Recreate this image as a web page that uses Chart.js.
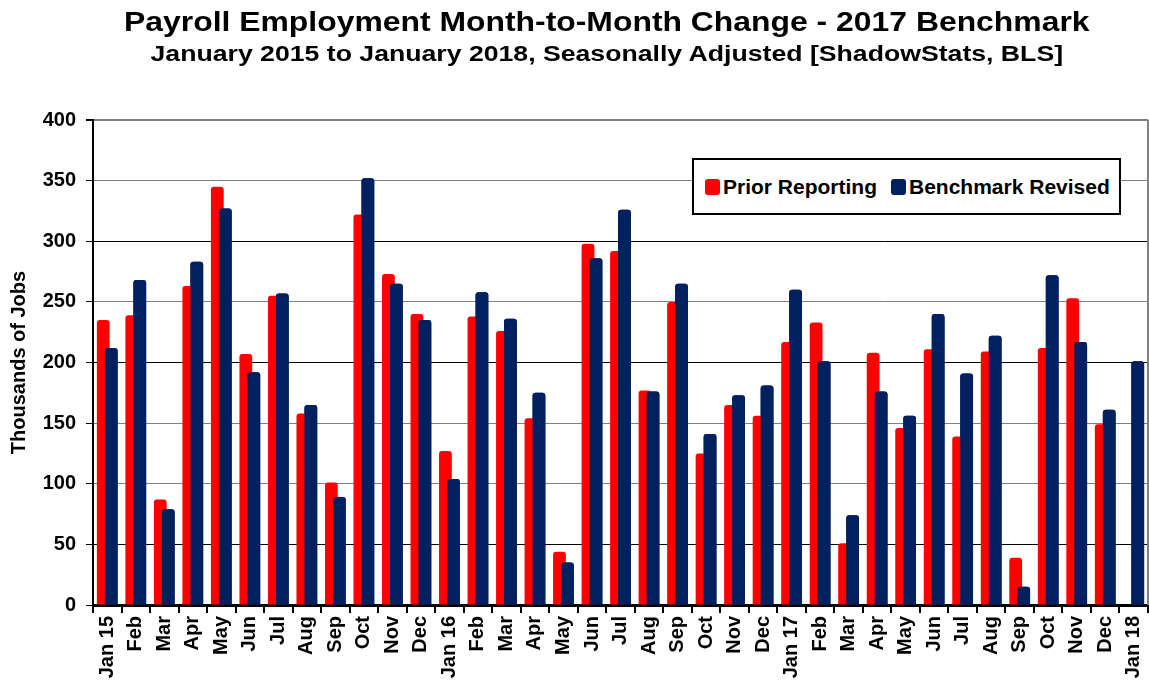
<!DOCTYPE html>
<html>
<head>
<meta charset="utf-8">
<script src="https://cdn.jsdelivr.net/npm/chart.js@4.4.0/dist/chart.umd.min.js"></script>
<style>
  html, body { margin: 0; padding: 0; background: #fff; }
  #wrap { position: relative; width: 1149px; height: 683px; font-family: "Liberation Sans", Arial, sans-serif; }
  #chart { position: absolute; left: 0; top: 0; }
  .ttl { position: absolute; left: 0; width: 1214px; text-align: center; font-weight: bold; color: #000; white-space: nowrap; line-height: 1; }
  .ttl span { display: inline-block; transform-origin: center; }
  #title { top: 9px; font-size: 27px; }
  #subtitle { top: 43px; font-size: 22px; }
  #legend { position: absolute; left: 692px; top: 158px; width: 425px; height: 53px; border: 2px solid #000; background: #fff;
            display: flex; align-items: center; font-weight: bold; font-size: 21px; color: #000; }
  #legend .sw { display: inline-block; width: 15px; height: 16px; border-radius: 3px; }
  #legend .lt { margin-left: 3px; white-space: nowrap; }
</style>
</head>
<body>
<div id="wrap">
  <canvas id="chart" width="1149" height="683"></canvas>
  <div class="ttl" id="title"><span>Payroll Employment Month-to-Month Change - 2017 Benchmark</span></div>
  <div class="ttl" id="subtitle"><span>January 2015 to January 2018, Seasonally Adjusted [ShadowStats, BLS]</span></div>
  <div id="legend">
    <span class="sw" style="background:#ff0000; margin-left:11px"></span><span class="lt">Prior Reporting</span>
    <span class="sw" style="background:#002060; margin-left:14px"></span><span class="lt">Benchmark Revised</span>
  </div>
</div>
<script>
const months = ["Jan 15", "Feb", "Mar", "Apr", "May", "Jun", "Jul", "Aug", "Sep", "Oct", "Nov", "Dec",
                "Jan 16", "Feb", "Mar", "Apr", "May", "Jun", "Jul", "Aug", "Sep", "Oct", "Nov", "Dec",
                "Jan 17", "Feb", "Mar", "Apr", "May", "Jun", "Jul", "Aug", "Sep", "Oct", "Nov", "Dec",
                "Jan 18"];

const priorReporting = [235, 239, 87, 263, 345, 207, 255, 158, 101, 322, 273, 240,
                        127, 238, 226, 154, 44, 298, 292, 177, 250, 125, 165, 156,
                        217, 233, 51, 208, 146, 211, 139, 209, 39, 212, 253, 149,
                        null];

const benchmarkRevised = [212, 268, 79, 283, 327, 192, 257, 165, 89, 352, 265, 235,
                          104, 258, 236, 175, 35, 286, 326, 176, 265, 141, 173, 181,
                          260, 201, 74, 176, 156, 240, 191, 222, 15, 272, 217, 161,
                          201];

const seriesNames = ["Prior Reporting", "Benchmark Revised"];
const seriesColors = ["#ff0000", "#002060"];

// stretch the titles to the width they have in the picture
function fitTitle(id, target) {
    const span = document.querySelector("#" + id + " span");
    span.style.transform = "scaleX(" + (target / span.offsetWidth) + ")";
}
fitTitle("title", 966);
fitTitle("subtitle", 913);

const tickFont = { family: "'Liberation Sans', Arial, sans-serif", size: 20, weight: "bold" };

// blue bars overlap the red ones, so draw them again on top
const blueOnTop = {
    id: "blueOnTop",
    afterDatasetsDraw(chart) {
        chart.getDatasetMeta(1).controller.draw();
    }
};

const frame = {
    id: "frame",
    afterDraw(chart) {
        const a = chart.chartArea;
        const ctx = chart.ctx;
        ctx.save();
        ctx.strokeStyle = "#808080";
        ctx.lineWidth = 2;
        ctx.beginPath();
        ctx.moveTo(a.right, a.top);
        ctx.lineTo(a.right, a.bottom);
        ctx.stroke();
        ctx.restore();
    }
};

new Chart(document.getElementById("chart"), {
    type: "bar",
    data: {
        labels: months,
        datasets: [{
            label: seriesNames[0],
            data: priorReporting,
            backgroundColor: seriesColors[0],
            borderRadius: 3,
            categoryPercentage: 0.56,
            barPercentage: 1.6
        }, {
            label: seriesNames[1],
            data: benchmarkRevised,
            backgroundColor: seriesColors[1],
            borderRadius: 3,
            categoryPercentage: 0.56,
            barPercentage: 1.6
        }]
    },
    options: {
        responsive: false,
        animation: false,
        layout: { padding: { top: 120, right: 1, left: 0, bottom: 0 } },
        plugins: {
            legend: { display: false },
            title: { display: false },
            tooltip: { enabled: false }
        },
        scales: {
            x: {
                offset: true,
                grid: {
                    offset: true,
                    drawOnChartArea: false,
                    drawTicks: true,
                    tickLength: 8,
                    tickColor: "#000",
                    lineWidth: 2
                },
                border: { color: "#000", width: 3 },
                ticks: {
                    font: tickFont,
                    color: "#000",
                    minRotation: 90,
                    maxRotation: 90,
                    autoSkip: false,
                    padding: 3
                },
                afterFit(scale) {
                    scale.height = 78;
                    scale.paddingLeft = 0;
                    scale.paddingRight = 0;
                }
            },
            y: {
                min: 0,
                max: 400,
                ticks: { stepSize: 50, font: tickFont, color: "#000", padding: 10 },
                grid: {
                    color(ctx) {
                        const v = ctx.tick ? ctx.tick.value : 0;
                        return (v === 300 || v === 200 || v === 50) ? "#000" : "#808080";
                    },
                    lineWidth(ctx) {
                        return ctx.tick && ctx.tick.value === 400 ? 2 : 1;
                    },
                    tickColor: "#000",
                    tickLength: 7
                },
                border: { color: "#000", width: 2 },
                title: {
                    display: true,
                    text: "Thousands of Jobs",
                    color: "#000",
                    font: { family: "'Liberation Sans', Arial, sans-serif", size: 20, weight: "bold" },
                    padding: { top: 7, bottom: 0 }
                },
                afterFit(scale) { scale.width = 93; }
            }
        }
    },
    plugins: [blueOnTop, frame]
});
</script>
</body>
</html>
